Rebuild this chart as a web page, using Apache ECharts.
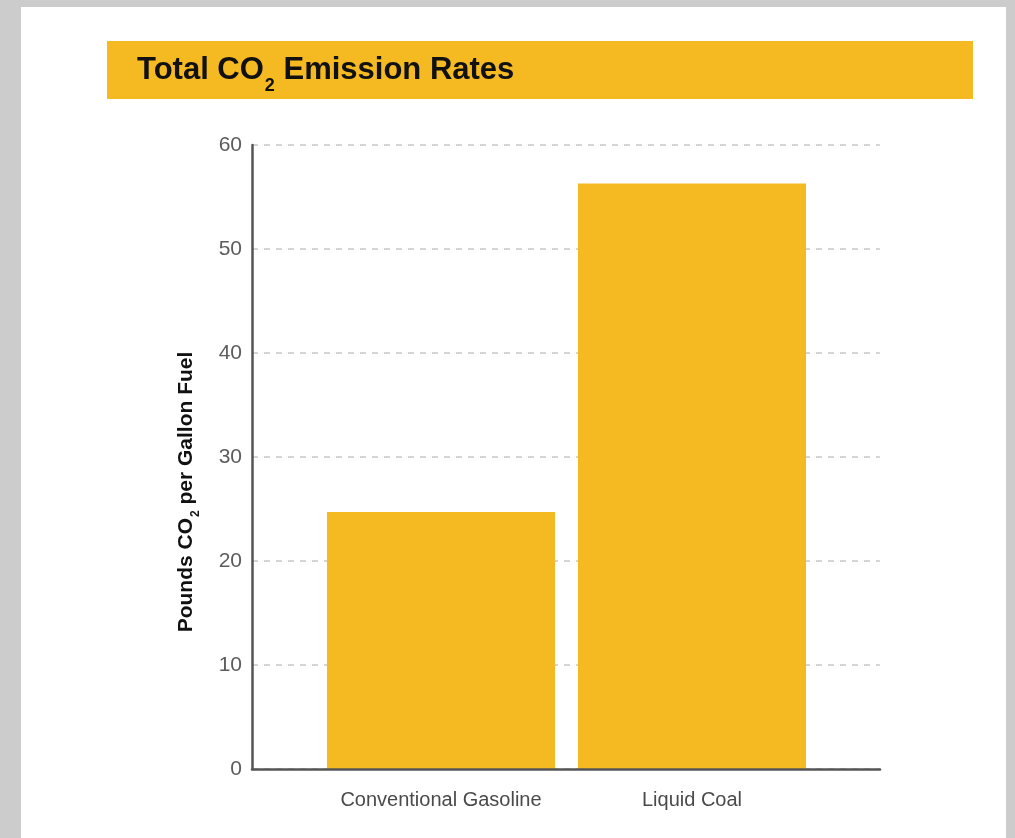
<!DOCTYPE html>
<html>
<head>
<meta charset="utf-8">
<script src="https://cdn.jsdelivr.net/npm/echarts@6/dist/echarts.min.js"></script>
<style>
  html, body { margin: 0; padding: 0; background: #cccccc; }
  #sheet { position: absolute; left: 21px; top: 7px; width: 985px; height: 840px; background: #ffffff; }
  #chart { position: absolute; left: 0; top: 0; width: 1015px; height: 838px; }
</style>
</head>
<body>
<div id="sheet"></div>
<div id="chart"></div>
<script>
// Fuel types and their CO2 emission rates (pounds per gallon)
var categories = ['Conventional Gasoline', 'Liquid Coal'];
var emissions = [24.7, 56.3];
var yTicks = { min: 0, max: 60, step: 10 };

var GOLD = '#F5B921';
var FONT = 'Liberation Sans';
var chart = echarts.init(document.getElementById('chart'), null, { renderer: 'canvas' });

chart.setOption({
  backgroundColor: 'transparent',
  animation: false,
  graphic: [
    {
      type: 'rect',
      shape: { x: 107, y: 41, width: 866, height: 58 },
      style: { fill: GOLD }
    },
    {
      type: 'text',
      x: 137, y: 70,
      style: {
        text: '{t|Total CO}{s|2}{t| Emission Rates}',
        verticalAlign: 'middle',
        rich: {
          t: { fontFamily: FONT, fontWeight: 'bold', fontSize: 31, fill: '#111111' },
          s: { fontFamily: FONT, fontWeight: 'bold', fontSize: 18, fill: '#111111', padding: [32, 0, 0, 1] }
        }
      }
    },
    {
      // y-axis title, rotated to read bottom-to-top
      type: 'text',
      x: 186, y: 492,
      rotation: Math.PI / 2,
      style: {
        text: '{t|Pounds CO}{s|2}{t| per Gallon Fuel}',
        align: 'center',
        verticalAlign: 'middle',
        rich: {
          t: { fontFamily: FONT, fontWeight: 'bold', fontSize: 21, fill: '#111111' },
          s: { fontFamily: FONT, fontWeight: 'bold', fontSize: 12, fill: '#111111', padding: [20, 0, 0, 1] }
        }
      }
    }
  ],
  grid: [
    { left: 252, top: 145, width: 628, height: 624 },
    { left: 315.5, top: 145, width: 502, height: 624 }
  ],
  xAxis: [
    {
      gridIndex: 0, type: 'value', min: 0, max: 1, z: 5,
      axisLine: { show: true, lineStyle: { color: '#555555', width: 2.5 } },
      axisTick: { show: false }, axisLabel: { show: false }, splitLine: { show: false }
    },
    {
      gridIndex: 1, type: 'category', data: categories,
      axisLine: { show: false }, axisTick: { show: false },
      axisLabel: { interval: 0, hideOverlap: false, fontFamily: FONT, fontSize: 20, color: '#4a4a4a', margin: 21 }
    }
  ],
  yAxis: [
    {
      gridIndex: 0, type: 'value', min: yTicks.min, max: yTicks.max, interval: yTicks.step,
      axisLine: { show: true, lineStyle: { color: '#555555', width: 2.5 } },
      axisTick: { show: false },
      axisLabel: { fontFamily: FONT, fontSize: 21, color: '#5c5c5c', margin: 10, padding: [7, 0, 0, 0] },
      splitLine: { show: true, lineStyle: { color: '#c8c8c8', width: 1.5, type: [6, 6] } }
    },
    { gridIndex: 1, type: 'value', min: yTicks.min, max: yTicks.max, show: false }
  ],
  series: [
    {
      type: 'bar',
      xAxisIndex: 1, yAxisIndex: 1,
      data: emissions,
      barWidth: 228,
      itemStyle: { color: GOLD }
    }
  ]
});
</script>
</body>
</html>
